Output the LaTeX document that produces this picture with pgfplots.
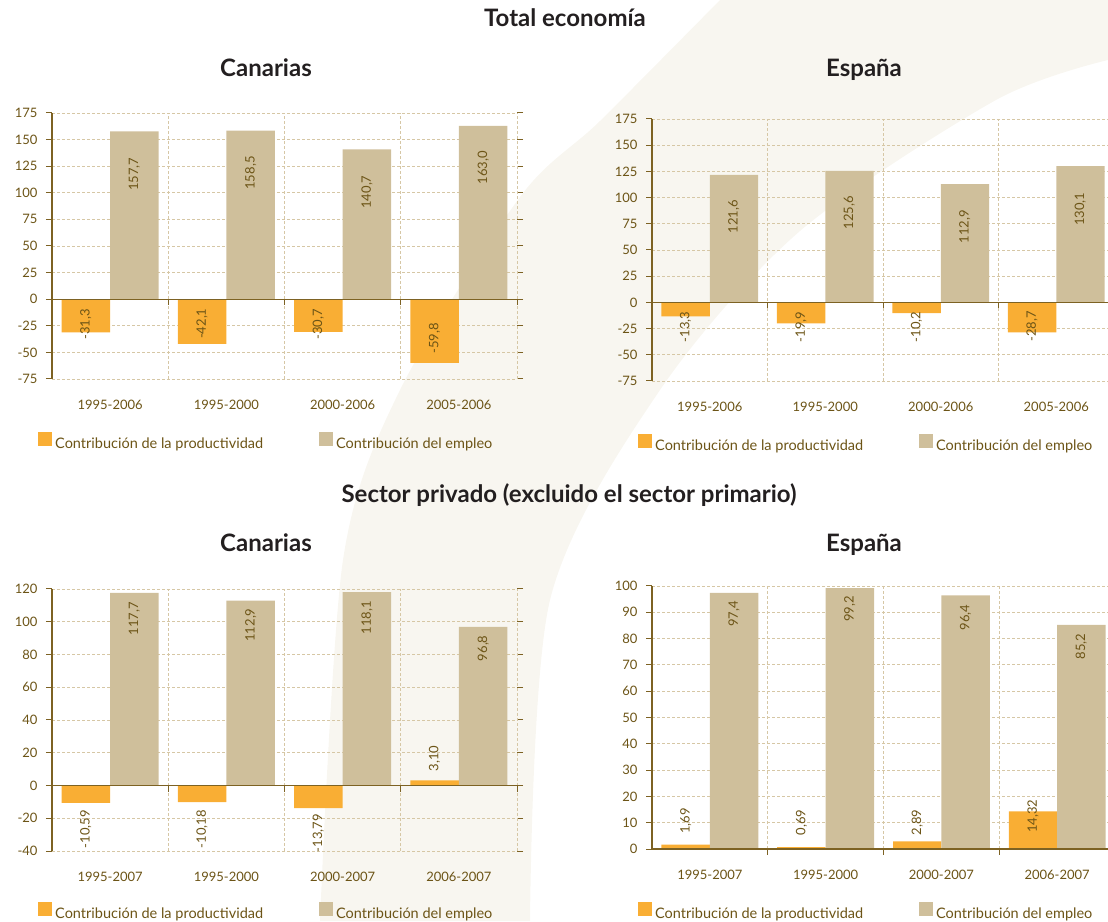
\documentclass[border=0pt]{standalone}
\usepackage{pgfplots}
\pgfplotsset{compat=1.18}
\usepackage{fontspec}
\setmainfont{Lato}
\definecolor{txt}{RGB}{108,84,22}
\definecolor{axc}{RGB}{125,98,35}
\definecolor{gridc}{RGB}{214,199,165}
\definecolor{orng}{RGB}{249,174,52}
\definecolor{tanc}{RGB}{207,191,155}
\definecolor{ttl}{RGB}{35,31,32}
\definecolor{swirl}{RGB}{248,246,240}
\pgfplotsset{
  panel/.style={
    scale only axis, anchor=south west, clip=false,
    xmin=-0.5, xmax=3.5, xtick={0,1,2,3},
    axis line style={draw=none},
    tick align=outside,
    xtick style={draw=none},
    ytick style={draw=axc, line width=1pt},
    major tick length=6pt,
    ymajorgrids,
    major grid style={gridc, dash pattern=on 3pt off 2pt, line width=0.9pt},
    extra x ticks={0.5,1.5,2.5,3.5},
    extra x tick labels={},
    extra x tick style={grid=major, major tick length=0pt},
    ticklabel style={font=\fontsize{13}{15}\selectfont, text=txt},
    /pgf/number format/assume math mode=true,
    xticklabel style={yshift=-12pt},
    yticklabel style={xshift=-5pt},
    legend columns=2,
    legend style={at={(0,0)}, anchor=west, xshift=-14pt, yshift=-62pt,
      draw=none, fill=none, inner sep=0pt,
      font=\fontsize{14.5}{16}\selectfont, text=txt,
      nodes={inner sep=0pt},
      /tikz/every even column/.append style={column sep=56pt},
      /tikz/every odd column/.append style={column sep=3pt}},
  },
  barO/.style={ybar, bar width=0.418, bar shift=-0.209, fill=orng, draw=none,
    legend image code/.code={\fill[orng] (0pt,-2pt) rectangle (14pt,12pt);}},
  barT/.style={ybar, bar width=0.418, bar shift=0.209, fill=tanc, draw=none,
    legend image code/.code={\fill[tanc] (0pt,-2pt) rectangle (14pt,12pt);}},
}
\tikzset{lbl/.style={rotate=90, inner sep=0pt, text=txt, font=\fontsize{13}{15}\selectfont},
  ttlf/.style={text=ttl, anchor=base, inner sep=0pt, font=\fontsize{24}{28}\selectfont\bfseries}}
\newcommand{\lab}[3]{\node[lbl] at (axis cs:#1,#2) {#3};}
\newcommand{\zeroline}{%
  \draw[axc, line width=1.3pt] (axis cs:-0.5,0) -- (axis cs:3.5,0);
  \draw[axc, line width=1pt] (axis cs:0.5,0) -- ([yshift=-6pt]axis cs:0.5,0);
  \draw[axc, line width=1pt] (axis cs:1.5,0) -- ([yshift=-6pt]axis cs:1.5,0);
  \draw[axc, line width=1pt] (axis cs:2.5,0) -- ([yshift=-6pt]axis cs:2.5,0);
  \draw[axc, line width=1pt] (axis cs:3.5,0) -- ([yshift=-6pt]axis cs:3.5,0);}
\begin{document}
\begin{tikzpicture}[x=1pt,y=1pt]
\fill[swirl] plot[smooth] coordinates {(320,0) (343,361) (400,531) (520,724) (600,800) (720,921)}
  -- (1108,921) -- (1108,861) -- plot[smooth] coordinates {(1108,861) (996,821) (800,690) (660,531) (550,321) (530,0)} -- cycle;

\node[ttlf] at (565,894) {Total economía};
\node[ttlf] at (266,844) {Canarias};
\node[ttlf] at (864,844) {España};
\node[ttlf] at (569,418) {Sector privado (excluido el sector primario)};
\node[ttlf] at (266,369) {Canarias};
\node[ttlf] at (864,369) {España};

% Top-left
\begin{axis}[panel, at={(52pt,542pt)}, width=465pt, height=266pt,
  ymin=-75, ymax=175, ytick={-75,-50,...,175},
  xticklabels={1995-2006,1995-2000,2000-2006,2005-2006}]
\addplot[barO] coordinates {(0,-31.3) (1,-42.1) (2,-30.7) (3,-59.8)};
\addplot[barT] coordinates {(0,157.7) (1,158.5) (2,140.7) (3,163.0)};
\legend{Contribución de la productividad, Contribución del empleo}
\draw[axc, line width=1.3pt] (axis cs:-0.5,-75) -- (axis cs:-0.5,175);
\zeroline
\lab{0.209}{117.6}{157,7}\lab{1.209}{118.6}{158,5}\lab{2.209}{100.7}{140,7}\lab{3.209}{123.4}{163,0}
\lab{-0.209}{-23.5}{-31,3}\lab{0.791}{-23}{-42,1}\lab{1.791}{-23.5}{-30,7}\lab{2.791}{-36.7}{-59,8}
\end{axis}

% Top-right
\begin{axis}[panel, at={(652pt,540pt)}, width=462pt, height=262pt,
  ymin=-75, ymax=175, ytick={-75,-50,...,175},
  xticklabels={1995-2006,1995-2000,2000-2006,2005-2006}]
\addplot[barO] coordinates {(0,-13.3) (1,-19.9) (2,-10.2) (3,-28.7)};
\addplot[barT] coordinates {(0,121.6) (1,125.6) (2,112.9) (3,130.1)};
\legend{Contribución de la productividad, Contribución del empleo}
\draw[axc, line width=1.3pt] (axis cs:-0.5,-75) -- (axis cs:-0.5,175);
\zeroline
\lab{0.209}{81.7}{121,6}\lab{1.209}{85.7}{125,6}\lab{2.209}{72.1}{112,9}\lab{3.209}{88.8}{130,1}
\lab{-0.209}{-23.4}{-13,3}\lab{0.791}{-23.4}{-19,9}\lab{1.791}{-23.4}{-10,2}\lab{2.791}{-23}{-28,7}
\end{axis}

% Bottom-left
\begin{axis}[panel, at={(52pt,70pt)}, width=465pt, height=262pt,
  ymin=-40, ymax=120, ytick={-40,-20,...,120},
  legend style={yshift=2pt},
  xticklabels={1995-2007,1995-2000,2000-2007,2006-2007}]
\addplot[barO] coordinates {(0,-10.59) (1,-10.18) (2,-13.79) (3,3.10)};
\addplot[barT] coordinates {(0,117.7) (1,112.9) (2,118.1) (3,96.8)};
\legend{Contribución de la productividad, Contribución del empleo}
\draw[axc, line width=1.3pt] (axis cs:-0.5,-40) -- (axis cs:-0.5,120);
\zeroline
\lab{0.209}{101.9}{117,7}\lab{1.209}{98}{112,9}\lab{2.209}{102.3}{118,1}\lab{3.209}{83.8}{96,8}
\lab{-0.209}{-26.7}{-10,59}\lab{0.791}{-26.7}{-10,18}\lab{1.791}{-29.2}{-13,79}\lab{2.791}{16.6}{3,10}
\end{axis}

% Bottom-right
\begin{axis}[panel, at={(652pt,72pt)}, width=463pt, height=263pt,
  ymin=0, ymax=100, ytick={0,10,...,100},
  xticklabels={1995-2007,1995-2000,2000-2007,2006-2007}]
\addplot[barO] coordinates {(0,1.69) (1,0.69) (2,2.89) (3,14.32)};
\addplot[barT] coordinates {(0,97.4) (1,99.2) (2,96.4) (3,85.2)};
\legend{Contribución de la productividad, Contribución del empleo}
\draw[axc, line width=1.3pt] (axis cs:-0.5,0) -- (axis cs:-0.5,100);
\zeroline
\lab{0.209}{89.3}{97,4}\lab{1.209}{91.2}{99,2}\lab{2.209}{88}{96,4}\lab{3.209}{77}{85,2}
\lab{-0.209}{10.6}{1,69}\lab{0.791}{10.1}{0,69}\lab{1.791}{10.1}{2,89}\lab{2.791}{12.4}{14,32}
\end{axis}

\pgfresetboundingbox
\useasboundingbox (0,0) rectangle (1108,921);
\end{tikzpicture}
\end{document}
